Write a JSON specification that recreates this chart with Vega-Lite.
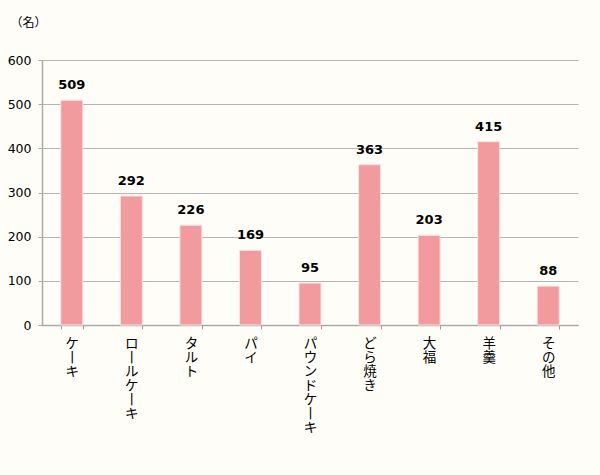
{
  "$schema": "https://vega.github.io/schema/vega-lite/v6.json",
  "autosize": {"type": "none"},
  "width": 536,
  "height": 265,
  "padding": {"left": 42, "top": 60, "right": 22, "bottom": 150},
  "background": "#FFFDF7",
  "config": {
    "view": {"stroke": null},
    "font": "Noto Sans CJK JP"
  },
  "data": {
    "values": [
      {"item": "ケーキ", "count": 509},
      {"item": "ロールケーキ", "count": 292},
      {"item": "タルト", "count": 226},
      {"item": "パイ", "count": 169},
      {"item": "パウンドケーキ", "count": 95},
      {"item": "どら焼き", "count": 363},
      {"item": "大福", "count": 203},
      {"item": "羊羹", "count": 415},
      {"item": "その他", "count": 88}
    ]
  },
  "encoding": {
    "x": {
      "field": "item",
      "type": "nominal",
      "sort": null,
      "scale": {"paddingInner": 0.63, "paddingOuter": 0.315},
      "axis": {
        "title": null,
        "labelAngle": 0,
        "labelExpr": "split(replace(datum.label, regexp('ー', 'g'), '丨'), '')",
        "labelFont": "Noto Sans CJK JP",
        "labelFontSize": 13.5,
        "labelColor": "#000000",
        "labelLineHeight": 14,
        "labelBaseline": "top",
        "labelPadding": 7,
        "tickBand": "extent",
        "tickSize": 4,
        "tickColor": "#999999",
        "domainColor": "#aaaaaa",
        "domainWidth": 1.5
      }
    },
    "y": {
      "field": "count",
      "type": "quantitative",
      "scale": {"domain": [0, 600]},
      "axis": {
        "values": [0, 100, 200, 300, 400, 500, 600],
        "title": "（名）",
        "titleAngle": 0,
        "titleAlign": "center",
        "titleBaseline": "middle",
        "titleX": -14,
        "titleY": -38,
        "titleFont": "Noto Sans CJK JP",
        "titleFontSize": 12,
        "titleFontWeight": "normal",
        "titleColor": "#000000",
        "labelFont": "DejaVu Sans",
        "labelFontSize": 12.5,
        "labelColor": "#000000",
        "labelPadding": 7,
        "tickSize": 4,
        "tickColor": "#aaaaaa",
        "domainColor": "#aaaaaa",
        "domainWidth": 1.5,
        "grid": true,
        "gridColor": "#b5b5b5",
        "gridWidth": 1.2
      }
    }
  },
  "layer": [
    {
      "mark": {"type": "bar", "color": "#F29B9F", "stroke": "#FBE3E3", "strokeWidth": 1}
    },
    {
      "mark": {"type": "text", "baseline": "bottom", "dy": -8, "font": "DejaVu Sans", "fontSize": 13, "fontWeight": "bold", "color": "#000000"},
      "encoding": {"text": {"field": "count", "type": "quantitative"}}
    }
  ]
}
